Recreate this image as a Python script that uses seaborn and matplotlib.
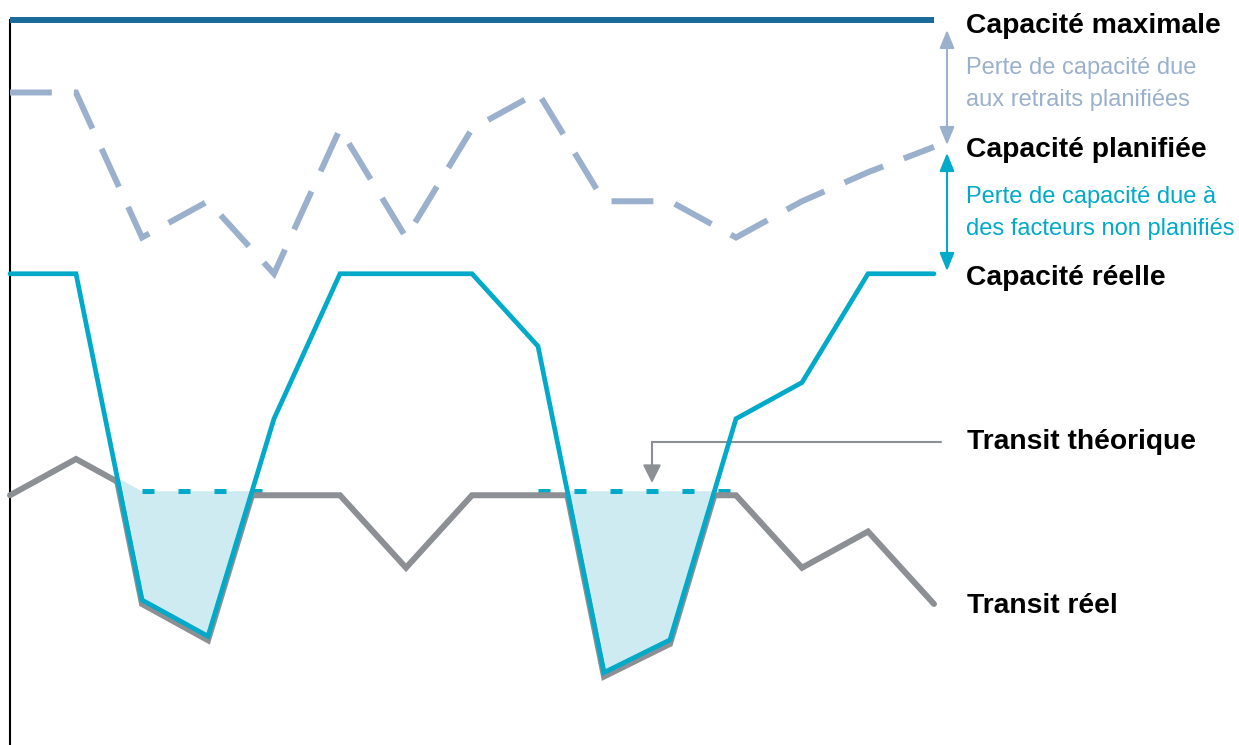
import numpy as np
import matplotlib
matplotlib.use("Agg")
import matplotlib.pyplot as plt
import matplotlib.transforms as mtransforms
from matplotlib import font_manager
import seaborn as sns

# ---- data -------------------------------------------------------------
periods = np.arange(15)
max_capacity = [100] * 15
planned_capacity = [90, 90, 70, 75, 65, 85, 70, 85, 90, 75, 75, 70, 75, 79, 82.5]
actual_capacity = [65, 65, 20, 15, 45, 65, 65, 65, 55, 10, 14.5, 45, 50, 65, 65]
theoretical_transit = [35, 40, 35, 35, 35, 35, 25, 35, 35, 35, 35, 35, 25, 30, 20]
# periods over which the theoretical transit is shown as a dashed reference
theoretical_spans = [(2, 4), (8, 11)]

labels_bold = ["Capacité maximale", "Capacité planifiée", "Capacité réelle",
               "Transit théorique", "Transit réel"]
planned_loss_text = ["Perte de capacité due", "aux retraits planifiées"]
unplanned_loss_text = ["Perte de capacité due à", "des facteurs non planifiés"]

# ---- style ------------------------------------------------------------
C_MAX = "#1a6a9a"
C_PLAN = "#9bb0cc"
C_REAL = "#00aac8"
C_TRANSIT = "#8c8f94"
C_FILL = "#cdebf1"

sns.set_theme(style="white")
available = {f.name for f in font_manager.fontManager.ttflist}
if "Liberation Sans Narrow" in available:
    bold_family, bold_size = "Liberation Sans Narrow", 24
else:
    bold_family, bold_size = "Liberation Sans", 20.3
plt.rcParams["font.family"] = ["Liberation Sans", "DejaVu Sans"]

W, H = 1239, 745
fig = plt.figure(figsize=(W / 100, H / 100), dpi=100)
ax = fig.add_axes([10 / W, 0, (934 - 10) / W, 725 / H])
ax.set_xlim(0, 14)
ax.set_ylim(0, 100)

# fine grid so that the crossing points of the curves are exact
xf = np.linspace(0, 14, 1401)
capf = np.interp(xf, periods, actual_capacity)
theof = np.interp(xf, periods, theoretical_transit)
transit_real = np.minimum(capf, theof)

# shaded transit shortfall
ax.fill_between(xf, capf, theof, where=capf < theof, color=C_FILL, lw=0,
                interpolate=True, zorder=1)

# theoretical transit (dashed) over the shortfall periods
for a, b in theoretical_spans:
    sns.lineplot(x=periods[a:b + 1], y=theoretical_transit[a:b + 1], ax=ax,
                 color=C_REAL, linewidth=3.6, estimator=None, sort=False)
    ln = ax.lines[-1]
    ln.set_dashes((2.4, 4.8))
    ln.set_dash_capstyle("butt")
    ln.set_zorder(2)

# actual transit, drawn as a grey shadow just below the capacity line
sns.lineplot(x=xf, y=transit_real, ax=ax, color=C_TRANSIT, linewidth=4.3,
             estimator=None, sort=False)
ln = ax.lines[-1]
ln.set_transform(mtransforms.offset_copy(ax.transData, fig=fig, x=0, y=-4,
                                         units="dots"))
ln.set_solid_joinstyle("miter")
ln.set_zorder(3)

# actual capacity
sns.lineplot(x=periods, y=actual_capacity, ax=ax, color=C_REAL, linewidth=3.4,
             estimator=None, sort=False)
ln = ax.lines[-1]
ln.set_solid_joinstyle("miter")
ln.set_zorder(4)

# planned capacity (dashed)
sns.lineplot(x=periods, y=planned_capacity, ax=ax, color=C_PLAN, linewidth=4.3,
             estimator=None, sort=False)
ln = ax.lines[-1]
ln.set_dashes((7, 3.7))
ln.set_dash_capstyle("butt")
ln.set_dash_joinstyle("miter")
ln.set_zorder(5)

# maximum capacity
sns.lineplot(x=periods, y=max_capacity, ax=ax, color=C_MAX, linewidth=4.3,
             estimator=None, sort=False)
ax.lines[-1].set_zorder(6)
ax.lines[-1].set_solid_capstyle("butt")

for line in ax.lines:
    line.set_clip_on(False)

for side in ["top", "right", "bottom"]:
    ax.spines[side].set_visible(False)
ax.spines["left"].set_color("black")
ax.spines["left"].set_linewidth(1.5)
ax.set_xticks([])
ax.set_yticks([])
ax.set_xlabel("")
ax.set_ylabel("")


def fp(x, y):
    """Figure-pixel position measured from the top-left corner."""
    return (x, H - y)


def label(text, x, y_base, **kw):
    fig.text(x / W, 1 - y_base / H, text, va="baseline", ha="left", **kw)


# right-hand labels
bold_kw = dict(family=[bold_family, "DejaVu Sans"], fontsize=bold_size,
               fontweight="bold", color="black")
label(labels_bold[0], 966, 33, **bold_kw)
label(labels_bold[1], 966, 157, **bold_kw)
label(labels_bold[2], 966, 285, **bold_kw)
label(labels_bold[3], 967, 449, **bold_kw)
label(labels_bold[4], 967, 613, **bold_kw)

small_kw = dict(fontsize=17)
label(planned_loss_text[0], 966, 74, color=C_PLAN, **small_kw)
label(planned_loss_text[1], 966, 106, color=C_PLAN, **small_kw)
label(unplanned_loss_text[0], 966, 203, color=C_REAL, **small_kw)
label(unplanned_loss_text[1], 966, 235, color=C_REAL, **small_kw)

# double-headed arrows between the capacity levels
arrow_style = "<|-|>,head_length=1.1,head_width=0.45"
ax.annotate("", xy=fp(947, 30), xytext=fp(947, 145), xycoords="figure pixels",
            textcoords="figure pixels",
            arrowprops=dict(arrowstyle=arrow_style, color=C_PLAN, lw=1.5,
                            shrinkA=0, shrinkB=0, mutation_scale=10))
ax.annotate("", xy=fp(947, 153), xytext=fp(947, 271), xycoords="figure pixels",
            textcoords="figure pixels",
            arrowprops=dict(arrowstyle=arrow_style, color=C_REAL, lw=1.5,
                            shrinkA=0, shrinkB=0, mutation_scale=10))

# pointer to the theoretical transit
ax.plot([941 / W, 652 / W, 652 / W], [1 - 442 / H, 1 - 442 / H, 1 - 470 / H],
        transform=fig.transFigure, color=C_TRANSIT, lw=1.5, clip_on=False,
        solid_joinstyle="miter")
ax.annotate("", xy=fp(652, 483), xytext=fp(652, 466), xycoords="figure pixels",
            textcoords="figure pixels",
            arrowprops=dict(arrowstyle="-|>,head_length=1.1,head_width=0.55",
                            color=C_TRANSIT, lw=1.5, shrinkA=0, shrinkB=0,
                            mutation_scale=10))

fig.savefig("out.png", dpi=100)
